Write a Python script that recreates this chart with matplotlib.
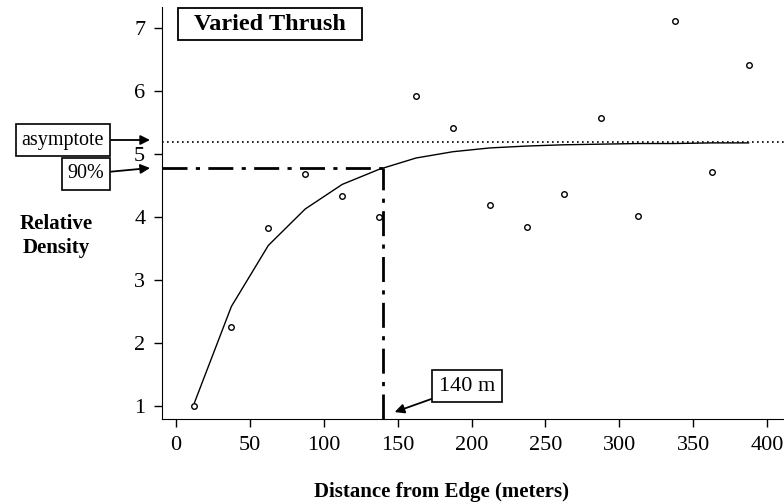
import numpy as np
import matplotlib.pyplot as plt
from matplotlib.patches import Rectangle

# observed relative density per 25 m distance bin
dist = [12.5, 37.5, 62.5, 87.5, 112.5, 137.5, 162.5, 187.5,
        212.5, 237.5, 262.5, 287.5, 312.5, 337.5, 362.5, 387.5]
density = [1.0, 2.26, 3.83, 4.69, 4.34, 4.0, 5.92, 5.41,
           4.19, 3.85, 4.37, 5.57, 4.02, 7.12, 4.71, 6.42]

# fitted curve
fit_x = [12.5, 37.5, 62.5, 87.5, 112.5, 137.5, 162.5, 187.5,
         212.5, 237.5, 262.5, 287.5, 312.5, 337.5, 362.5, 387.5]
fit_y = [1.05, 2.58, 3.55, 4.13, 4.52, 4.76, 4.94, 5.04,
         5.10, 5.13, 5.15, 5.16, 5.17, 5.17, 5.18, 5.18]

asymptote = 5.2
ninety = 4.78
edge_dist = 140

plt.rcParams['font.family'] = ['Liberation Serif', 'DejaVu Serif']

W, H = 784, 504
fig = plt.figure(figsize=(7.84, 5.04), dpi=100)
ax = fig.add_axes([0.2066, 0.1687, 0.7934, 0.8173])

ax.plot(fit_x, fit_y, color='black', lw=1.0)
ax.plot(dist, density, 'o', ms=4, mfc='white', mec='black', mew=1.0)

ax.axhline(asymptote, color='black', lw=1.2, linestyle=(0, (1, 2)))
ax.plot([-9.5, edge_dist], [ninety, ninety], color='black', lw=2,
        linestyle=(0, (9, 3, 1.5, 3)))
ax.plot([edge_dist, edge_dist], [0.79, ninety], color='black', lw=2,
        linestyle=(0, (9, 3, 1.5, 3)))

ax.set_xlim(-9.5, 411.5)
ax.set_ylim(0.79, 7.34)
ax.set_xticks([0, 50, 100, 150, 200, 250, 300, 350, 400])
ax.set_yticks([1, 2, 3, 4, 5, 6, 7])
ax.tick_params(direction='out', length=6, width=1, labelsize=16, pad=6)
for s in ['top', 'right']:
    ax.spines[s].set_visible(False)

# title box
fig.patches.append(Rectangle((178 / W, 1 - 40 / H), 184 / W, 32 / H,
                             transform=fig.transFigure, fc='white',
                             ec='black', lw=1.3))
fig.text(270 / W, 1 - 24 / H, 'Varied Thrush', fontsize=17.5,
         fontweight='bold', va='center', ha='center')

box = dict(boxstyle='square,pad=0.3', fc='white', ec='black', lw=1.2)
arrow = dict(arrowstyle='-|>', color='black', lw=1.3, mutation_scale=14,
             shrinkA=0, shrinkB=0)
ax.annotate('asymptote', xy=(150, H - 140), xycoords='figure pixels',
            xytext=(63, H - 140), textcoords='figure pixels',
            fontsize=14.5, ha='center', va='center', bbox=box,
            arrowprops=arrow, annotation_clip=False)
ax.annotate('90%', xy=(150, H - 168), xycoords='figure pixels',
            xytext=(86, H - 174), textcoords='figure pixels',
            fontsize=14.5, ha='center', va='center', bbox=box,
            arrowprops=arrow, annotation_clip=False)
ax.annotate('140 m', xy=(148, 0.9), xytext=(197, 1.31),
            fontsize=16, ha='center', va='center', bbox=box,
            arrowprops=arrow)

fig.text(56 / W, 1 - 236 / H, 'Relative\nDensity', fontsize=15,
         fontweight='bold', ha='center', va='center', linespacing=1.3)
fig.text(441 / W, 1 - 492 / H, 'Distance from Edge (meters)',
         fontsize=15, fontweight='bold', ha='center', va='center')

fig.savefig('out.png', dpi=100)
